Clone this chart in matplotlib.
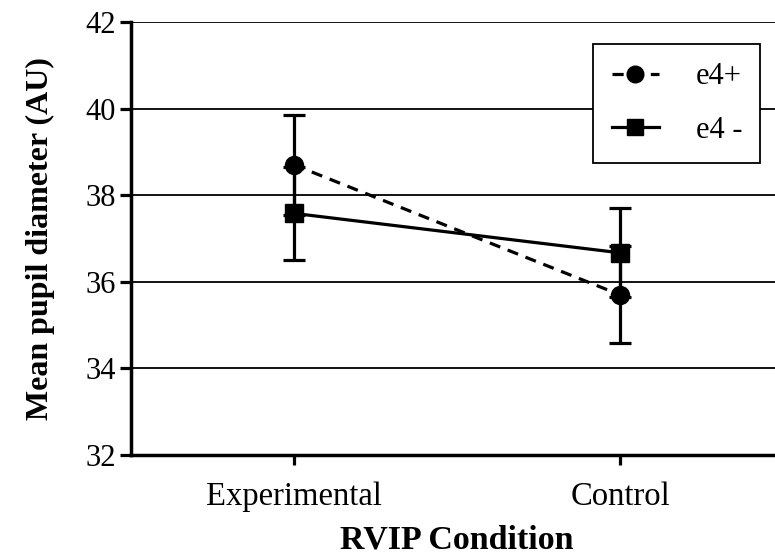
import matplotlib
matplotlib.use("Agg")
import matplotlib.pyplot as plt
from matplotlib.lines import Line2D

plt.rcParams['font.family'] = ['Liberation Serif', 'DejaVu Serif']

conditions = ["Experimental", "Control"]
e4_pos_mean = [38.70, 35.70]
e4_pos_err = [1.15, 1.12]
e4_neg_mean = [37.58, 36.67]
e4_neg_err = [1.08, 1.03]
y_ticks = [32, 34, 36, 38, 40, 42]
series_labels = ["e4+", "e4 -"]

fig = plt.figure(figsize=(7.75, 5.59), dpi=100)
# axes run past the right edge, the original image is cropped there
ax = fig.add_axes([131 / 775, 104 / 559, 652 / 775, 433 / 559])

xs = list(range(len(conditions)))
dash = (0, (3.5, 2.5))

ax.errorbar(xs, e4_pos_mean, yerr=e4_pos_err, color='black', lw=2.3,
            ls=dash, marker='o', ms=13, capsize=8, capthick=2.3,
            elinewidth=2.3, zorder=4)
ax.errorbar(xs, e4_neg_mean, yerr=e4_neg_err, color='black', lw=2.3,
            ls='-', marker='s', ms=12.5, capsize=8, capthick=2.3,
            elinewidth=2.3, zorder=4)

ax.set_xlim(-0.5, 1.5)
ax.set_ylim(32, 42)
ax.set_yticks(y_ticks)
ax.set_xticks(xs)
ax.set_xticklabels(conditions, fontsize=23.5)
ax.tick_params(axis='y', labelsize=22, length=8, width=2.3, direction='out', pad=3)
ax.tick_params(axis='x', length=7, width=2.3, direction='out', pad=12)

for y in y_ticks[1:]:
    ax.axhline(y, color='black', lw=1.3, zorder=1)

for side in ['top', 'right']:
    ax.spines[side].set_visible(False)
for side in ['left', 'bottom']:
    ax.spines[side].set_linewidth(2.5)

ax.set_xlabel("RVIP Condition", fontsize=24.5, fontweight='bold', labelpad=9)
ax.set_ylabel("Mean pupil diameter (AU)", fontsize=23, fontweight='bold', labelpad=22)

handles = [
    Line2D([], [], color='black', lw=2.3, ls=(0, (3.5, 2.5)), marker='o', ms=12),
    Line2D([], [], color='black', lw=2.3, ls='-', marker='s', ms=12),
]
leg = ax.legend(handles, series_labels, loc='upper left',
                bbox_to_anchor=(0.709, 0.949), fontsize=22,
                frameon=True, fancybox=False, edgecolor='black', framealpha=1,
                borderaxespad=0, handlelength=1.55, labelspacing=0.8,
                borderpad=0.6, handletextpad=1.2)
leg.get_frame().set_linewidth(1.3)
leg.set_zorder(5)

fig.savefig("out.png", dpi=100)
